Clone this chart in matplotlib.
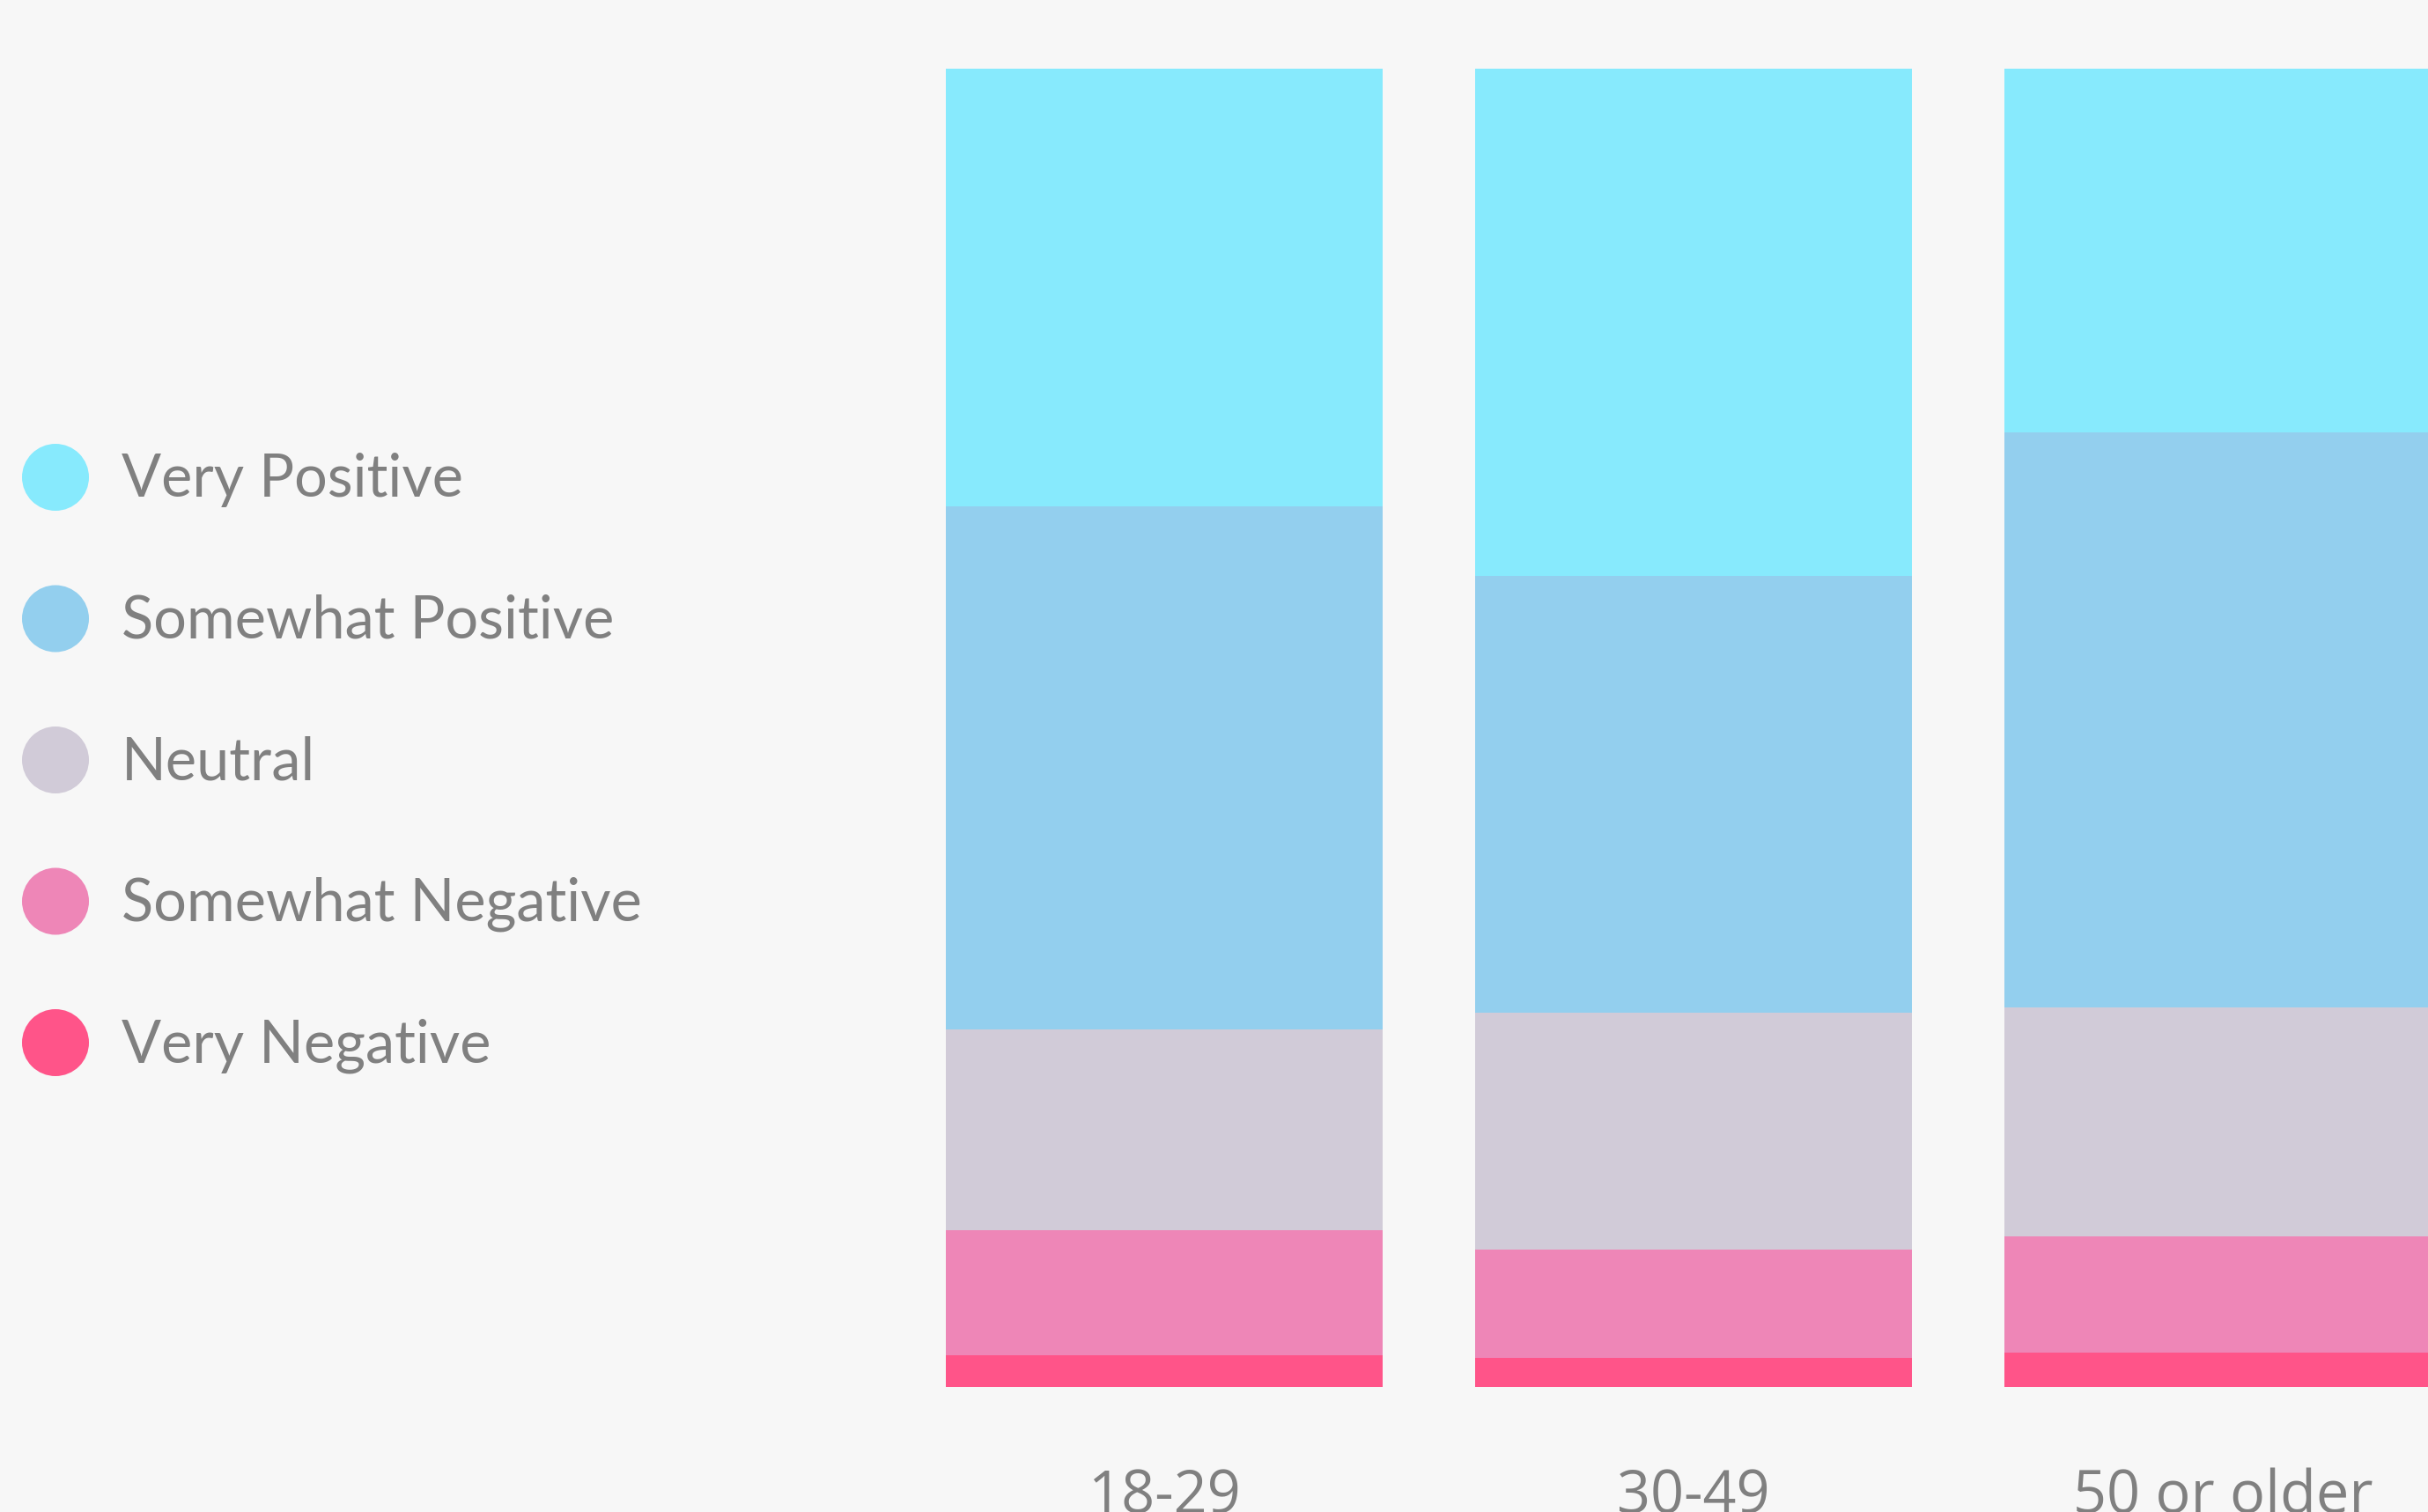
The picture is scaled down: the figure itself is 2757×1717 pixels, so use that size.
import numpy as np
import matplotlib
matplotlib.use("Agg")
import matplotlib.pyplot as plt
from matplotlib.patches import Circle

# data (percent of respondents)
groups = ['18-29', '30-49', '50 or older']
levels = ['Very Positive', 'Somewhat Positive', 'Neutral', 'Somewhat Negative', 'Very Negative']
very_positive = [33.2, 38.5, 27.6]
somewhat_positive = [39.7, 33.1, 43.6]
neutral = [15.2, 18.0, 17.4]
somewhat_negative = [9.5, 8.2, 8.8]
very_negative = [2.4, 2.2, 2.6]
colors = ['#87eafd', '#93cfee', '#d1cbd8', '#ee86b7', '#ff5489']

W, H = 2757, 1717
bg = '#f7f7f7'
grey = '#808080'

fig = plt.figure(figsize=(W / 100, H / 100), dpi=100, facecolor=bg)

# bars
ax = fig.add_axes([1074 / W, (H - 1575) / H, (W - 1074) / W, (1575 - 78) / H])
ax.set_facecolor(bg)
x = np.arange(len(groups))
width = 0.825
series = [very_negative, somewhat_negative, neutral, somewhat_positive, very_positive]
bottom = np.zeros(len(groups))
for vals, col in zip(series, colors[::-1]):
    ax.bar(x, vals, width, bottom=bottom, color=col, linewidth=0)
    bottom += np.array(vals)
ax.set_xlim(-width / 2, -width / 2 + (W - 1074) / 601)
ax.set_ylim(0, bottom.max())
ax.set_yticks([])
ax.set_xticks(x, groups)
ax.tick_params(axis='x', length=0, pad=66, labelsize=48, labelcolor=grey)
for lab in ax.get_xticklabels():
    lab.set_family(['Open Sans', 'DejaVu Sans'])
for s in ax.spines.values():
    s.set_visible(False)

# legend drawn by hand on the left
lax = fig.add_axes([0, 0, 1, 1])
lax.set_xlim(0, W)
lax.set_ylim(H, 0)
lax.axis('off')
for i, (name, col) in enumerate(zip(levels, colors)):
    cy = 542 + 160.5 * i
    lax.add_patch(Circle((63, cy), 38, color=col, lw=0))
    lax.text(138, cy + 22, name, fontsize=48, color=grey, va='baseline',
             family=['Lato', 'DejaVu Sans'])

plt.savefig('out.png', dpi=100, facecolor=bg)
